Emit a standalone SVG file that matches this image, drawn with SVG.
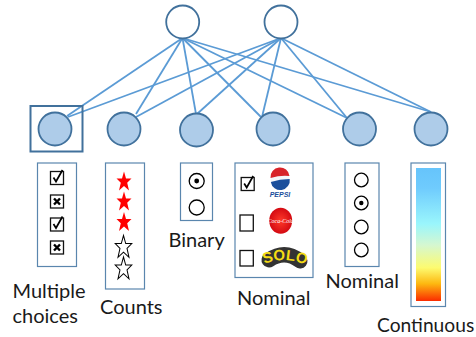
<svg xmlns="http://www.w3.org/2000/svg" xmlns:xlink="http://www.w3.org/1999/xlink" width="476" height="337" viewBox="0 0 476 337">
<style>
.n{fill:#aecce9;stroke:#41719c;stroke-width:1.8}
.t{fill:#fff;stroke:#41719c;stroke-width:1.8}
.b{fill:#fff;stroke:#5a86ae;stroke-width:1.2}
.e line{stroke:#5b9bd5;stroke-width:1.8}
.l{font-family:"Lato","Liberation Sans",sans-serif;font-size:20px;fill:#1a1a1a}
.rad{fill:#fff;stroke:#000;stroke-width:1.3}
.box{fill:#fff;stroke:#111;stroke-width:1.3}
</style>
<defs>
<linearGradient id="g" x1="0" y1="0" x2="0" y2="1">
<stop offset="0" stop-color="#66c4fb"/><stop offset=".15" stop-color="#6fcbfd"/><stop offset=".42" stop-color="#9af6fc"/><stop offset=".58" stop-color="#d5f7d0"/><stop offset=".75" stop-color="#fdfb70"/><stop offset=".87" stop-color="#fdb810"/><stop offset="1" stop-color="#fb2b00"/>
</linearGradient>
<radialGradient id="pg" cx=".5" cy=".5" r=".5"><stop offset="0" stop-color="#ff3a2a"/><stop offset="1" stop-color="#d40a12"/></radialGradient>
<g id="chk"><rect x="-6.500" y="-6.500" width="13" height="13" class="box"/><path d="M-3.500,-.5L-1,3.500L5.500,-8" fill="none" stroke="#000" stroke-width="1.700"/></g>
<g id="xb"><rect x="-6.500" y="-6.500" width="13" height="13" class="box"/><path d="M-3,-3L3,3M3,-3L-3,3" stroke="#000" stroke-width="2.400"/></g>
<polygon id="st" points="0,-10 2,-3 7.500,-3 3.200,1.200 5,9 0,4.500 -5,9 -3.200,1.200 -7.500,-3 -2,-3"/>
<path id="arc" d="M264,264Q285,256 306,265"/>
</defs>
<g id="connectors" class="e">
<line x1="182.5" y1="38" x2="67" y2="116"/>
<line x1="182.5" y1="38" x2="136" y2="114"/>
<line x1="182.5" y1="38" x2="196" y2="114"/>
<line x1="182.5" y1="38" x2="261" y2="117"/>
<line x1="182.5" y1="38" x2="347" y2="118"/>
<line x1="182.5" y1="38" x2="431" y2="112"/>
<line x1="281" y1="38" x2="68" y2="117"/>
<line x1="281" y1="38" x2="136" y2="117"/>
<line x1="281" y1="38" x2="197" y2="114"/>
<line x1="281" y1="38" x2="262" y2="117"/>
<line x1="281" y1="38" x2="347" y2="118"/>
<line x1="281" y1="38" x2="431" y2="112"/>
</g>
<g id="latent1"><circle class="t" cx="182.7" cy="22" r="16.5"/></g>
<g id="latent2"><circle class="t" cx="281" cy="22" r="16.5"/></g>
<g id="multi">
<rect x="30.5" y="106" width="52" height="45.5" fill="none" stroke="#41719c" stroke-width="2"/>
<circle class="n" cx="55" cy="129" r="16.5"/>
<rect class="b" x="37.5" y="163" width="39" height="103.5"/>
<use xlink:href="#chk" href="#chk" x="57" y="178"/><use xlink:href="#xb" href="#xb" x="57" y="201.500"/><use xlink:href="#chk" href="#chk" x="57" y="224.500"/><use xlink:href="#xb" href="#xb" x="57" y="247.500"/>
<text class="l" x="12.5" y="298">Multiple</text><text class="l" x="12.5" y="323">choices</text>
</g>
<g id="counts">
<circle class="n" cx="124" cy="129" r="16.5"/>
<rect class="b" x="105.5" y="163" width="39" height="126"/>
<g fill="#ff0000"><use xlink:href="#st" href="#st" x="124" y="181.500"/><use xlink:href="#st" href="#st" x="124" y="201.500"/><use xlink:href="#st" href="#st" x="124" y="222"/></g>
<g fill="#fff" stroke="#000" stroke-width=".9"><use xlink:href="#st" href="#st" transform="translate(123.500 247) scale(1.100 1.150)"/><use xlink:href="#st" href="#st" transform="translate(123.500 268.500) scale(1.100 1.150)"/></g>
<text class="l" x="100" y="314">Counts</text>
</g>
<g id="binary">
<circle class="n" cx="196.500" cy="130" r="16.5"/>
<rect class="b" x="180.500" y="163" width="32" height="57.500"/>
<circle class="rad" cx="196.700" cy="181" r="7.500"/><circle cx="196.700" cy="181" r="2.400" fill="#000"/>
<circle class="rad" cx="196.700" cy="207.500" r="7.500"/>
<text class="l" x="168.500" y="246.500">Binary</text>
</g>
<g id="nominal">
<circle class="n" cx="273" cy="129" r="16.5"/>
<rect class="b" x="235" y="163" width="78" height="114.500"/>
<use xlink:href="#chk" href="#chk" x="247.700" y="184"/>
<rect class="box" x="240" y="215" width="13.300" height="16"/>
<rect class="box" x="240" y="250.500" width="13.300" height="15.500"/>
<circle cx="280" cy="179" r="9.500" fill="#f4f6fa"/><path d="M270.500,178a9.500,9.500 0 0 1 19,-2q-9,-1 -19,2z" fill="#d8232a"/><path d="M270.800,182q9,-3 18.900,-3a9.500,9.500 0 0 1 -18.900,3z" fill="#1b4f9c"/>
<text x="280" y="197" font-family="'Liberation Sans',sans-serif" font-size="7" font-weight="bold" font-style="italic" fill="#1b4f9c" text-anchor="middle">PEPSI</text>
<ellipse cx="280.700" cy="220.700" rx="11.500" ry="13" fill="url(#pg)"/>
<text x="280.700" y="223" font-family="'Liberation Serif',serif" font-size="6" font-style="italic" fill="#fff" text-anchor="middle">Coca-Cola</text>
<path d="M269,260Q285,249 300,261" fill="none" stroke="#333" stroke-width="15" stroke-linecap="round"/>
<text font-family="'Liberation Sans',sans-serif" font-size="15" font-weight="bold" fill="#f5dc14" text-anchor="middle"><textPath xlink:href="#arc" href="#arc" startOffset="50%">SOLO</textPath></text>
<text class="l" x="237" y="305">Nominal</text>
</g>
<g id="nominal2">
<circle class="n" cx="359.500" cy="129" r="16.5"/>
<rect class="b" x="345" y="163" width="34" height="103.500"/>
<circle class="rad" cx="361.300" cy="180" r="6.800"/>
<circle class="rad" cx="361.300" cy="203" r="6.800"/><circle cx="361.300" cy="203" r="2.200" fill="#000"/>
<circle class="rad" cx="361.300" cy="227" r="6.800"/>
<circle class="rad" cx="361.300" cy="250" r="6.800"/>
<text class="l" x="325.500" y="288">Nominal</text>
</g>
<g id="continuous">
<circle class="n" cx="431" cy="129" r="16.5"/>
<rect class="b" x="411" y="163" width="34.500" height="143.500"/>
<rect x="416" y="168" width="25" height="133" fill="url(#g)"/>
<text class="l" x="377" y="332" style="font-size:19.200px">Continuous</text>
</g>
</svg>
